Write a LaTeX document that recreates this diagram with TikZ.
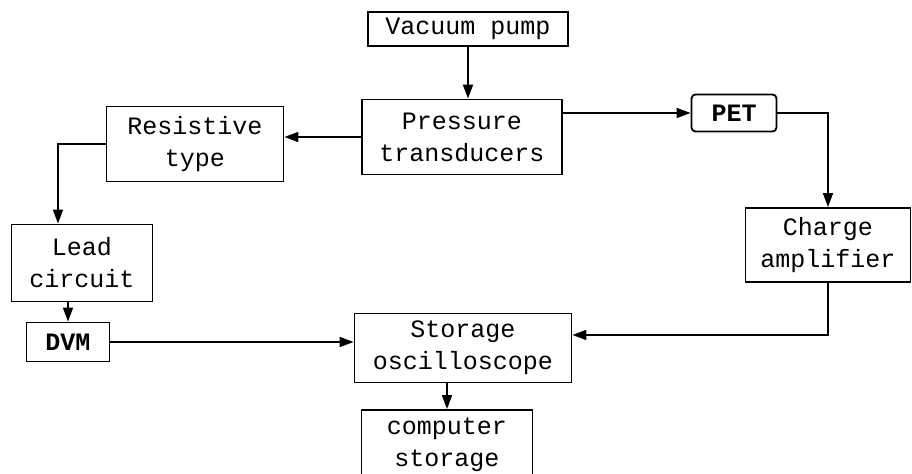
\documentclass[tikz,border=0pt]{standalone}
\usepackage{fontspec}
\setmonofont{Liberation Mono}
\usetikzlibrary{arrows.meta,calc}

\begin{document}
\begin{tikzpicture}[x=0.5pt, y=-0.5pt,
  font=\ttfamily\fontsize{12.5}{16}\selectfont, >={Triangle[length=7pt,width=5pt]},
  blk/.style={draw, line width=0.9pt, align=center, inner sep=0pt},
  line width=0.8pt]
  \useasboundingbox (0,0) rectangle (912,474);
  \clip (0,0) rectangle (912,474);
  \node[blk, minimum width=100pt, minimum height=17pt]   (vac)    at (468,29)  {Vacuum pump};
  \node[blk, minimum width=100pt, minimum height=37.5pt] (press)  at (462,137) {Pressure\\transducers};
  \node[blk, minimum width=88.5pt, minimum height=37.5pt](resist) at (195,144) {Resistive\\type};
  \node[blk, minimum width=42.5pt, minimum height=18.5pt, rounded corners=2pt,
        font=\ttfamily\bfseries\fontsize{12.5}{16}\selectfont] (pet) at (734,113) {PET};
  \node[blk, minimum width=82.5pt, minimum height=37pt]  (charge) at (828,245) {Charge\\amplifier};
  \node[blk, minimum width=70.5pt, minimum height=38.5pt](lead)   at (82,263)  {Lead\\circuit};
  \node[blk, minimum width=41.5pt, minimum height=19.5pt,
        font=\ttfamily\bfseries\fontsize{12.5}{16}\selectfont] (dvm) at (68,342) {DVM};
  \node[blk, minimum width=108.5pt, minimum height=34.5pt](stor)  at (463,348) {Storage\\oscilloscope};
  \node[blk, minimum width=85.5pt, minimum height=35pt]  (comp)   at (447,445) {computer\\storage};

  \draw[->] (vac.south) -- (vac.south |- press.north);
  \draw[->] (press.west) -- (press.west -| resist.east);
  \draw[->] (pet.west -| press.east) -- (pet.west);
  \draw[->] (resist.west) -| ([xshift=-12pt]lead.north);
  \draw[->] (lead.south -| dvm.north) -- (dvm.north);
  \draw[->] (pet.east) -| (charge.north);
  \draw[->] (dvm.east) -- (dvm.east -| stor.west);
  \draw[->] (charge.south) |- ([yshift=6.5pt]stor.east);
  \draw[->] (stor.south -| comp.north) -- (comp.north);
\end{tikzpicture}
\end{document}
